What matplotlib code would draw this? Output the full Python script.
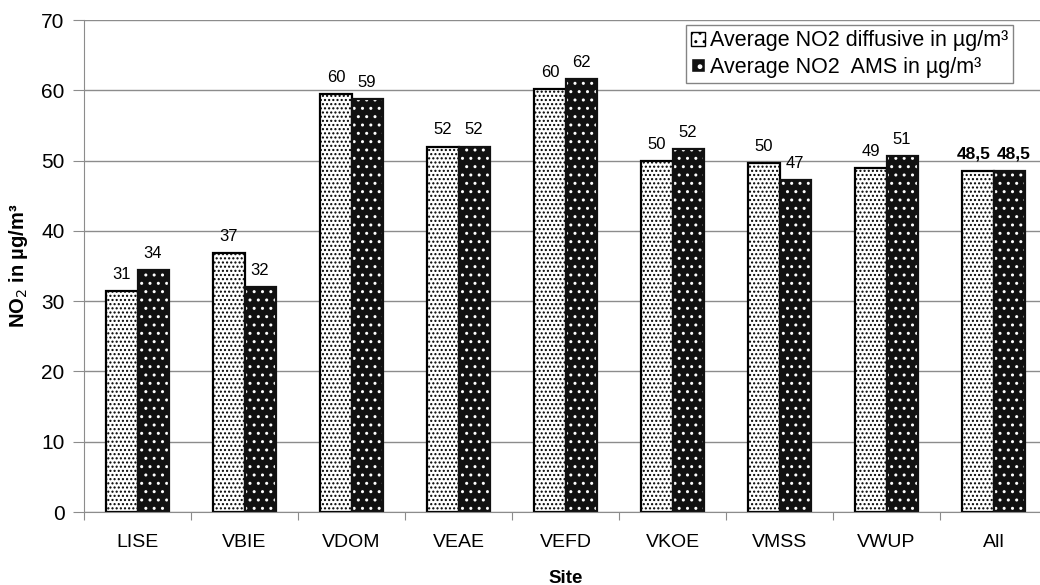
import numpy as np
import matplotlib.pyplot as plt
from matplotlib.patches import Patch

plt.rcParams['font.family'] = ['Liberation Sans', 'DejaVu Sans']
plt.rcParams['hatch.linewidth'] = 1.0

sites = ['LISE', 'VBIE', 'VDOM', 'VEAE', 'VEFD', 'VKOE', 'VMSS', 'VWUP', 'All']
diffusive = [31.4, 36.8, 59.5, 52.0, 60.2, 49.9, 49.6, 48.9, 48.5]
ams = [34.4, 32.0, 58.7, 52.0, 61.6, 51.6, 47.2, 50.6, 48.5]
diffusive_labels = ['31', '37', '60', '52', '60', '50', '50', '49', '48,5']
ams_labels = ['34', '32', '59', '52', '62', '52', '47', '51', '48,5']

x = np.arange(len(sites))
w = 0.29

fig = plt.figure(figsize=(10.4, 5.85), dpi=100)
ax = fig.add_axes([84 / 1040, 73 / 585, 963 / 1040, 492 / 585])

# gridlines behind everything
ax.set_axisbelow(True)
ax.yaxis.grid(True, color='#8c8c8c', linewidth=1.0)

# diffusive sampler: white with dense black dots
ax.bar(x - w / 2, diffusive, w, facecolor='white', edgecolor='black',
       hatch='....', linewidth=0)
ax.bar(x - w / 2, diffusive, w, facecolor='none', edgecolor='black', linewidth=1.6)

# AMS: black with sparse white dots
ax.bar(x + w / 2, ams, w, facecolor='#111111', edgecolor='none', linewidth=0)
ax.bar(x + w / 2, ams, w, facecolor='none', edgecolor='white', hatch='..', linewidth=0)
ax.bar(x + w / 2, ams, w, facecolor='none', edgecolor='#111111', linewidth=1.6)

for i in range(len(sites)):
    if sites[i] == 'All':
        kw = dict(fontsize=12.5, fontweight='bold')
        dx = 0.04
    else:
        kw = dict(fontsize=12)
        dx = 0.0
    ax.text(x[i] - w / 2 - dx, diffusive[i] + 1.3, diffusive_labels[i], ha='center',
            va='bottom', **kw)
    ax.text(x[i] + w / 2 + dx, ams[i] + 1.3, ams_labels[i], ha='center',
            va='bottom', **kw)

ax.set_xlim(-0.5, len(sites) - 0.5)
ax.set_ylim(0, 70)
ax.set_yticks(range(0, 71, 10))
ax.tick_params(axis='y', labelsize=15, length=8, color='#8c8c8c', pad=6)

# ticks between groups, labels at group centres
ax.set_xticks(np.arange(-0.5, len(sites), 1.0))
ax.set_xticklabels([])
ax.set_xticks(x, minor=True)
ax.set_xticklabels(sites, minor=True)
ax.tick_params(axis='x', which='major', length=6, color='#8c8c8c')
ax.tick_params(axis='x', which='minor', length=0, labelsize=14, pad=16)

for s in ['top', 'right']:
    ax.spines[s].set_visible(False)
ax.spines['left'].set_color('#8c8c8c')
ax.spines['bottom'].set_color('#8c8c8c')

ax.set_ylabel('NO$_2$ in µg/m³', fontsize=14.5, fontweight='bold', labelpad=8)
ax.set_xlabel('Site', fontsize=13.5, fontweight='bold')
ax.xaxis.set_label_coords(0.5, -0.117)

handles = [Patch(facecolor='white', edgecolor='black', hatch='..'),
           Patch(facecolor='#111111', edgecolor='white', hatch='.')]
leg = ax.legend(handles, ['Average NO2 diffusive in µg/m³', 'Average NO2  AMS in µg/m³'],
                loc='upper left', bbox_to_anchor=(602 / 963, 0.99), fontsize=15.5,
                frameon=True, fancybox=False, handlelength=0.65, handleheight=0.65,
                handletextpad=0.2, borderpad=0.25, labelspacing=0.25, borderaxespad=0)
leg.get_frame().set_edgecolor('#666666')
leg.get_frame().set_linewidth(1.0)

fig.savefig('out.png', dpi=100)
